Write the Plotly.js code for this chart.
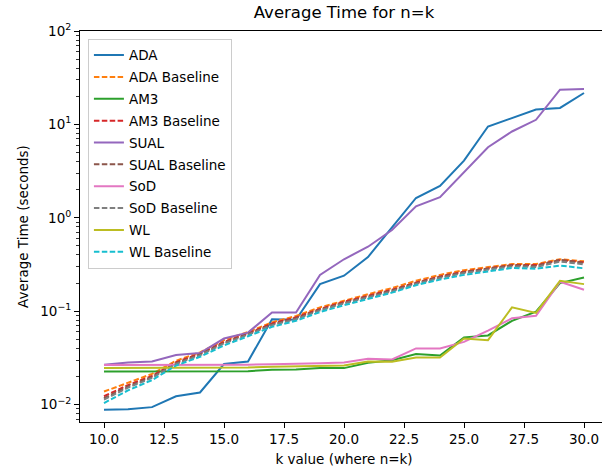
<!DOCTYPE html>
<html>
<head>
<meta charset="utf-8">
<script src="https://cdn.plot.ly/plotly-3.0.1.min.js"></script>
<style>html,body{margin:0;padding:0;overflow:hidden;background:#fff;}#chart{width:610px;height:475px;}</style>
</head>
<body>
<div id="chart"></div>
<script>
const kValues = [10,11,12,13,14,15,16,17,18,19,20,21,22,23,24,25,26,27,28,29,30];

const ada         = [0.0088,0.0089,0.0094,0.0123,0.0135,0.0272,0.029,0.082,0.081,0.195,0.24,0.38,0.79,1.63,2.2,4.1,9.5,11.7,14.4,15.0,21.7];
const adaBase     = [0.0138,0.0173,0.0213,0.0295,0.0363,0.049,0.060,0.076,0.089,0.110,0.130,0.152,0.177,0.212,0.245,0.275,0.297,0.320,0.320,0.360,0.342];
const am3         = [0.0226,0.0226,0.0226,0.0226,0.0226,0.0227,0.0228,0.0236,0.0237,0.0247,0.0246,0.0280,0.0298,0.0348,0.0336,0.0525,0.055,0.079,0.099,0.200,0.230];
const am3Base     = [0.0123,0.0162,0.0203,0.0285,0.0352,0.047,0.058,0.074,0.086,0.106,0.126,0.147,0.170,0.203,0.236,0.265,0.288,0.312,0.312,0.352,0.335];
const sual        = [0.0268,0.0282,0.029,0.034,0.0357,0.051,0.059,0.097,0.097,0.245,0.36,0.49,0.74,1.33,1.66,3.07,5.7,8.4,11.2,23.5,23.9];
const sualBase    = [0.0117,0.0157,0.0198,0.0278,0.0345,0.046,0.057,0.072,0.084,0.104,0.123,0.144,0.167,0.200,0.232,0.262,0.285,0.310,0.305,0.355,0.330];
const sod         = [0.0265,0.0265,0.0265,0.0265,0.0266,0.0267,0.0268,0.0270,0.0272,0.0277,0.0282,0.0310,0.0305,0.040,0.040,0.047,0.062,0.084,0.0895,0.207,0.170];
const sodBase     = [0.0113,0.0152,0.0193,0.0272,0.0338,0.045,0.056,0.071,0.082,0.102,0.121,0.141,0.163,0.196,0.227,0.256,0.278,0.302,0.297,0.340,0.318];
const wl          = [0.0246,0.0246,0.0246,0.0246,0.0247,0.0248,0.0250,0.0254,0.0256,0.0258,0.0262,0.0290,0.0288,0.032,0.032,0.051,0.049,0.110,0.096,0.212,0.195];
const wlBase      = [0.0104,0.0142,0.0183,0.0262,0.0325,0.043,0.054,0.068,0.079,0.098,0.116,0.135,0.158,0.190,0.218,0.245,0.268,0.290,0.285,0.308,0.288];

const seriesNames = ["ADA","ADA Baseline","AM3","AM3 Baseline","SUAL","SUAL Baseline","SoD","SoD Baseline","WL","WL Baseline"];
const seriesData  = [ada,adaBase,am3,am3Base,sual,sualBase,sod,sodBase,wl,wlBase];
const colors = ["#1f77b4","#ff7f0e","#2ca02c","#d62728","#9467bd","#8c564b","#e377c2","#7f7f7f","#bcbd22","#17becf"];

const xTickVals = [10,12.5,15,17.5,20,22.5,25,27.5,30];
const xTickText = ["10.0","12.5","15.0","17.5","20.0","22.5","25.0","27.5","30.0"];
const yTickVals = [0.01,0.1,1,10,100];
const yTickText = ["10<sup>\u22122</sup>","10<sup>\u22121</sup>","10<sup>0</sup>","10<sup>1</sup>","10<sup>2</sup>"];
const yMinor = [];
for (let e = -3; e <= 1; e++) for (let m = 2; m <= 9; m++) yMinor.push(m * Math.pow(10, e));

const traces = seriesNames.map((name, i) => ({
  x: kValues, y: seriesData[i], name: name, type: 'scatter', mode: 'lines',
  legendgroup: 'g' + i,
  line: {color: colors[i], width: 2, dash: name.indexOf('Baseline') >= 0 ? '5.5px,2.4px' : 'solid'}
}));

const font = {family: 'DejaVu Sans, sans-serif', size: 13.5, color: '#000'};
const layout = {
  width: 610, height: 475,
  margin: {l: 80, r: 2, t: 31, b: 53},
  paper_bgcolor: '#fff', plot_bgcolor: '#fff',
  font: font,
  title: {text: 'Average Time for n=k', x: 0.5, xanchor: 'center', xref: 'paper', y: 0.975, yanchor: 'middle', font: {family: 'DejaVu Sans, sans-serif', size: 16.5, color: '#000'}},
  xaxis: {
    range: [9, 31], showgrid: false, zeroline: false,
    showline: true, mirror: true, linecolor: '#000', linewidth: 1,
    ticks: 'outside', ticklen: 5, tickwidth: 1, tickcolor: '#000',
    tickmode: 'array', tickvals: xTickVals, ticktext: xTickText,
    title: {text: 'k value (where n=k)', standoff: 8, font: font}
  },
  yaxis: {
    type: 'log', range: [-2.186, 2.0], showgrid: false, zeroline: false,
    showline: true, mirror: true, linecolor: '#000', linewidth: 1,
    ticks: 'outside', ticklen: 5, tickwidth: 1, tickcolor: '#000',
    tickmode: 'array', tickvals: yTickVals, ticktext: yTickText,
    minor: {ticks: 'outside', ticklen: 3, tickwidth: 0.8, tickcolor: '#000', tickmode: 'array', tickvals: yMinor, showgrid: false},
    title: {text: 'Average Time (seconds)', standoff: 8, font: font}
  },
  legend: {
    x: 0.015, y: 0.98, xanchor: 'left', yanchor: 'top',
    bgcolor: 'rgba(255,255,255,0.8)', bordercolor: '#cccccc', borderwidth: 1,
    font: font, itemwidth: 30, tracegroupgap: 1.3
  },
  showlegend: true
};
Plotly.newPlot('chart', traces, layout, {staticPlot: true, displayModeBar: false});
</script>
</body>
</html>
